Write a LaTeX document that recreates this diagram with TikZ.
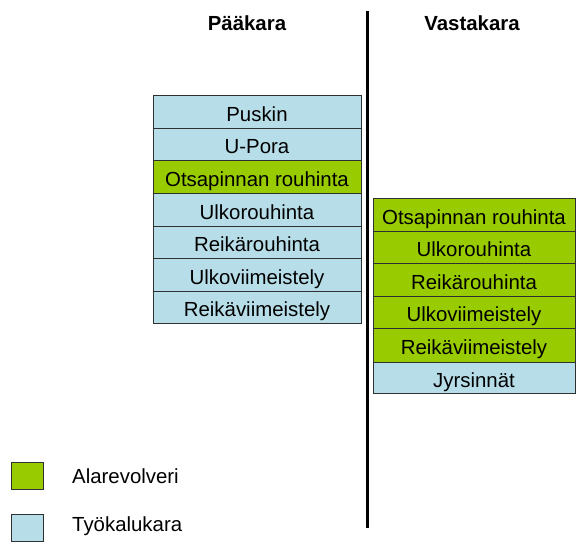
\documentclass[tikz,border=0pt]{standalone}
\usepackage{fontspec}
\setmainfont{Liberation Sans}
\definecolor{revgreen}{HTML}{99CC00}
\definecolor{toolblue}{HTML}{B7DEE8}
\definecolor{edge}{HTML}{303030}
\begin{document}
\begin{tikzpicture}[x=1pt,y=-1pt,
  cell/.style={draw=edge,line width=1pt,minimum width=#1,inner sep=0pt,anchor=north,text height=18.6pt,text depth=0pt,font=\fontsize{20.4}{22}\selectfont},
  lcell/.style={cell=208pt},
  rcell/.style={cell=202pt},
  gfill/.style={fill=revgreen},
  bfill/.style={fill=toolblue},
  head/.style={font=\fontsize{20.4}{22}\selectfont\bfseries},
  legtext/.style={font=\fontsize{20.4}{22}\selectfont,anchor=west,inner sep=0pt},
  legbox/.style={draw=edge,line width=1pt,minimum width=32pt,minimum height=27pt,inner sep=0pt}]
\useasboundingbox (0,0) rectangle (576,544);
% headers
\node[head] (hmain) at (247,23) {Pääkara};
\node[head] (hcounter) at (472,23) {Vastakara};
% divider
\coordinate (dtop) at (367.5,11);
\coordinate (dbot) at (367.5,528);
\draw[line width=3pt] (dtop) -- (dbot);
% left column
\node[lcell,bfill,minimum height=33pt] (l1) at (257,95) {Puskin};
\node[lcell,bfill,minimum height=32pt] (l2) at (257,128) {U-Pora};
\node[lcell,gfill,minimum height=33pt] (l3) at (257,160) {Otsapinnan rouhinta};
\node[lcell,bfill,minimum height=33pt] (l4) at (257,193) {Ulkorouhinta};
\node[lcell,bfill,minimum height=32pt] (l5) at (257,226) {Reikärouhinta};
\node[lcell,bfill,minimum height=33pt] (l6) at (257,258) {Ulkoviimeistely};
\node[lcell,bfill,minimum height=32pt] (l7) at (257,291) {Reikäviimeistely};
% right column
\node[rcell,gfill,minimum height=33pt] (r1) at (474,198) {Otsapinnan rouhinta};
\node[rcell,gfill,minimum height=32pt] (r2) at (474,231) {Ulkorouhinta};
\node[rcell,gfill,minimum height=33pt] (r3) at (474,263) {Reikärouhinta};
\node[rcell,gfill,minimum height=32pt] (r4) at (474,296) {Ulkoviimeistely};
\node[rcell,gfill,minimum height=34pt] (r5) at (474,328) {Reikäviimeistely};
\node[rcell,bfill,minimum height=31pt] (r6) at (474,362) {Jyrsinnät};
% legend
\node[legbox,gfill] (kg) at (27.5,476) {};
\node[legtext] (tg) at (72,476) {Alarevolveri};
\node[legbox,bfill] (kb) at (27.5,528) {};
\node[legtext] (tb) at (72,526) {Työkalukara};
\end{tikzpicture}
\end{document}
